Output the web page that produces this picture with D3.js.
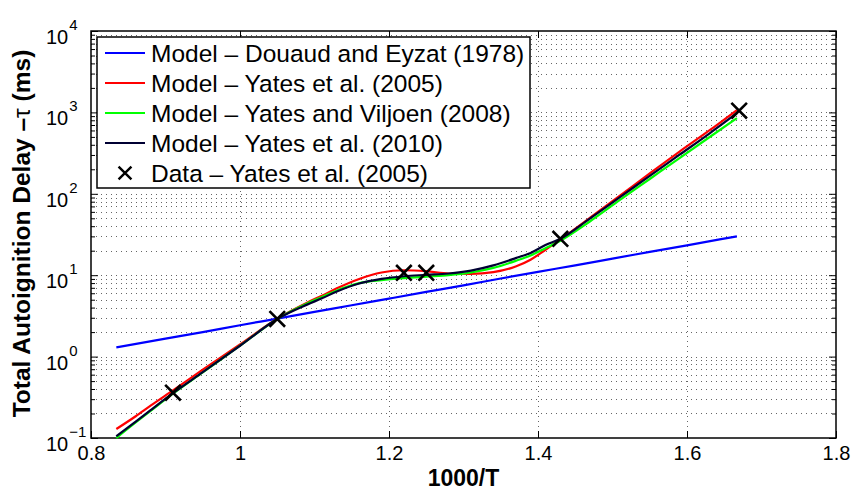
<!DOCTYPE html>
<html lang="en">
<head>
  <meta charset="UTF-8">
  <title>Autoignition delay</title>
  <script src="https://d3js.org/d3.v7.min.js"></script>
  <style>
    body { margin: 0; background: #fff; }
    text { font-family: "Liberation Sans", Arial, sans-serif; }
  </style>
</head>
<body>
  <script>
    // 1000/T grid for the Yates-type models
    const xModel = [0.834, 0.86, 0.88, 0.91, 0.95, 1.0, 1.05, 1.09, 1.11, 1.13, 1.16, 1.19, 1.22, 1.25, 1.28, 1.31, 1.34, 1.37, 1.39, 1.41, 1.43, 1.47, 1.51, 1.55, 1.59, 1.63, 1.667];
    const yates2005 = [0.129, 0.185, 0.25, 0.385, 0.69, 1.41, 2.92, 4.6, 5.6, 6.9, 9.0, 10.8, 11.5, 11.2, 10.5, 10.4, 10.9, 12.8, 15.5, 20.5, 27.5, 51, 95, 178, 330, 600, 1070];
    const yates2008 = [0.10, 0.155, 0.215, 0.35, 0.64, 1.36, 2.9, 4.5, 5.4, 6.5, 8.0, 8.7, 9.2, 9.6, 10.0, 10.8, 12.3, 15.0, 17.5, 21.5, 26.5, 46, 84, 152, 275, 495, 850];
    const yates2010 = [0.105, 0.159, 0.22, 0.355, 0.645, 1.36, 2.9, 4.35, 5.2, 6.3, 7.9, 9.0, 9.7, 10.1, 10.5, 11.4, 13.2, 16.2, 18.8, 23.5, 28, 50, 91, 166, 302, 550, 980];

    // Douaud and Eyzat correlation
    const xDouaud = [0.834, 0.9, 0.95, 1.0, 1.05, 1.1, 1.15, 1.2, 1.25, 1.3, 1.35, 1.4, 1.45, 1.5, 1.55, 1.6, 1.667];
    const douaud = [1.30, 1.66, 2.0, 2.43, 2.93, 3.54, 4.27, 5.16, 6.23, 7.5, 9.1, 11.0, 13.2, 16.0, 19.3, 23.3, 30];

    // measurements
    const xData = [0.91, 1.05, 1.22, 1.25, 1.43, 1.67];
    const yData = [0.36, 2.9, 10.7, 10.7, 28, 1050];

    const xTicks = [0.8, 1, 1.2, 1.4, 1.6, 1.8];
    const xTickLabels = ["0.8", "1", "1.2", "1.4", "1.6", "1.8"];
    const yExponents = [-1, 0, 1, 2, 3, 4];

    const legendLabels = [
      "Model \u2013 Douaud and Eyzat (1978)",
      "Model \u2013 Yates et al. (2005)",
      "Model \u2013 Yates and Viljoen (2008)",
      "Model \u2013 Yates et al. (2010)",
      "Data \u2013 Yates et al. (2005)"
    ];

    const W = 855, H = 491;
    const pLeft = 91, pRight = 836, pTop = 31, pBottom = 438;

    const svg = d3.select("body").append("svg")
      .attr("width", W)
      .attr("height", H);

    const x = d3.scaleLinear().domain([0.8, 1.8]).range([pLeft, pRight]);
    const y = d3.scaleLog().domain([0.1, 1e4]).range([pBottom, pTop]);

    const majorY = yExponents.map(e => Math.pow(10, e));
    const minorY = [];
    yExponents.slice(0, -1).forEach(e => {
      for (let m = 2; m <= 9; m++) minorY.push(m * Math.pow(10, e));
    });

    // grid, dotted like matlab
    const grid = svg.append("g");
    grid.selectAll(".vg")
      .data(xTicks.slice(1, -1))
      .enter().append("line")
      .attr("x1", d => Math.round(x(d)) + 0.5).attr("x2", d => Math.round(x(d)) + 0.5)
      .attr("y1", pTop).attr("y2", pBottom)
      .attr("stroke", "#666").attr("stroke-width", 1)
      .attr("stroke-dasharray", "1,4");
    grid.selectAll(".hg")
      .data(majorY.slice(1, -1).concat(minorY))
      .enter().append("line")
      .attr("x1", pLeft).attr("x2", pRight)
      .attr("y1", d => Math.round(y(d)) + 0.5).attr("y2", d => Math.round(y(d)) + 0.5)
      .attr("stroke", "#666").attr("stroke-width", 1)
      .attr("stroke-dasharray", "1,4");

    // axes (ticks inside, box on)
    const axisStyle = g => {
      g.select(".domain").remove();
      g.selectAll("line").attr("stroke", "#000");
    };

    svg.append("g")
      .attr("transform", `translate(0,${pBottom})`)
      .call(d3.axisBottom(x).tickValues(xTicks).tickSize(-7).tickPadding(8)
        .tickFormat((d, i) => xTickLabels[i]))
      .call(axisStyle)
      .call(g => g.selectAll("text").attr("font-size", 20).attr("fill", "#000")
        .attr("font-family", "Liberation Sans, Arial, sans-serif"));

    svg.append("g")
      .attr("transform", `translate(0,${pTop})`)
      .call(d3.axisTop(x).tickValues(xTicks).tickSize(-7).tickFormat(""))
      .call(axisStyle);

    svg.append("g")
      .attr("transform", `translate(${pLeft},0)`)
      .call(d3.axisLeft(y).tickValues(majorY).tickSize(-7).tickFormat(""))
      .call(axisStyle);
    svg.append("g")
      .attr("transform", `translate(${pLeft},0)`)
      .call(d3.axisLeft(y).tickValues(minorY).tickSize(-4).tickFormat(""))
      .call(axisStyle);
    svg.append("g")
      .attr("transform", `translate(${pRight},0)`)
      .call(d3.axisRight(y).tickValues(majorY).tickSize(-7).tickFormat(""))
      .call(axisStyle);
    svg.append("g")
      .attr("transform", `translate(${pRight},0)`)
      .call(d3.axisRight(y).tickValues(minorY).tickSize(-4).tickFormat(""))
      .call(axisStyle);

    // y tick labels 10^n
    const yl = svg.append("g").selectAll("text")
      .data(yExponents)
      .enter().append("text")
      .attr("x", 46)
      .attr("y", d => y(Math.pow(10, d)) + 13)
      .attr("font-size", 20)
      .attr("fill", "#000");
    yl.append("tspan").text("10");
    yl.append("tspan")
      .attr("font-size", 15)
      .attr("dy", -14)
      .attr("dx", 1)
      .text(d => d < 0 ? "\u2212" + Math.abs(d) : d);

    // box
    svg.append("rect")
      .attr("x", pLeft).attr("y", pTop)
      .attr("width", pRight - pLeft).attr("height", pBottom - pTop)
      .attr("fill", "none").attr("stroke", "#000").attr("stroke-width", 1.5);

    // curves
    const line = d3.line()
      .x(d => x(d[0]))
      .y(d => y(d[1]))
      .curve(d3.curveMonotoneX);

    const series = [
      { xs: xDouaud, ys: douaud, color: "#0000ff" },
      { xs: xModel, ys: yates2005, color: "#ff0000" },
      { xs: xModel, ys: yates2008, color: "#00ff00" },
      { xs: xModel, ys: yates2010, color: "#000033" }
    ];

    series.forEach(s => {
      svg.append("path")
        .datum(s.xs.map((v, i) => [v, s.ys[i]]))
        .attr("d", line)
        .attr("fill", "none")
        .attr("stroke", s.color)
        .attr("stroke-width", 2.2);
    });

    // X markers
    const cross = d3.symbol().type(d3.symbolX).size(160);
    svg.append("g").selectAll("path")
      .data(xData.map((v, i) => [v, yData[i]]))
      .enter().append("path")
      .attr("d", cross)
      .attr("transform", d => `translate(${x(d[0])},${y(d[1])})`)
      .attr("fill", "none")
      .attr("stroke", "#000")
      .attr("stroke-width", 2.6);

    // legend
    const lg = svg.append("g");
    lg.append("rect")
      .attr("x", 97).attr("y", 37)
      .attr("width", 433).attr("height", 151)
      .attr("fill", "#fff").attr("stroke", "#000").attr("stroke-width", 1.5);

    legendLabels.forEach((lab, i) => {
      const cy = 53 + i * 30;
      if (i < 4) {
        lg.append("line")
          .attr("x1", 105).attr("x2", 145)
          .attr("y1", cy).attr("y2", cy)
          .attr("stroke", series[i].color).attr("stroke-width", 2.2);
      } else {
        lg.append("path")
          .attr("d", d3.symbol().type(d3.symbolX).size(110))
          .attr("transform", `translate(125,${cy})`)
          .attr("fill", "none").attr("stroke", "#000").attr("stroke-width", 2.4);
      }
      lg.append("text")
        .attr("x", 151).attr("y", cy + 9)
        .attr("font-size", 24.5)
        .attr("fill", "#000")
        .text(lab);
    });

    // axis titles
    svg.append("text")
      .attr("x", (pLeft + pRight) / 2).attr("y", 486)
      .attr("text-anchor", "middle")
      .attr("font-size", 23)
      .attr("font-weight", "bold")
      .text("1000/T");

    const yt = svg.append("text")
      .attr("transform", `translate(30,${(pTop + pBottom) / 2 - 1}) rotate(-90)`)
      .attr("text-anchor", "middle")
      .attr("font-size", 24.5)
      .attr("font-weight", "bold");
    yt.append("tspan").text("Total Autoignition Delay \u2013");
    yt.append("tspan").attr("font-weight", "normal").text("\u03c4");
    yt.append("tspan").text(" (ms)");
  </script>
</body>
</html>
